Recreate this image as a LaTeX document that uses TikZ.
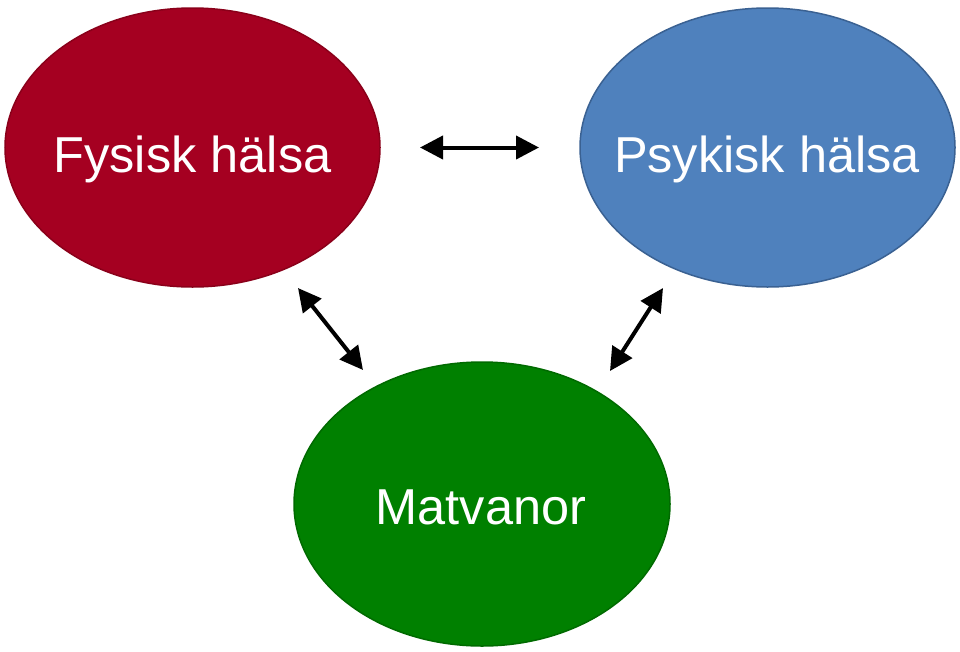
\documentclass[tikz,border=0pt]{standalone}
\usepackage{fontspec}
\setmainfont{Liberation Sans}
\usetikzlibrary{shapes.geometric,arrows.meta}
\definecolor{redfill}{HTML}{A50021}
\definecolor{redline}{HTML}{8A001A}
\definecolor{bluefill}{HTML}{4F81BD}
\definecolor{blueline}{HTML}{3A6192}
\definecolor{greenfill}{HTML}{008000}
\definecolor{greenline}{HTML}{006A00}
\tikzset{
  blob/.style={ellipse, line width=1.5pt, inner sep=0pt},
  lbl/.style={anchor=base, text=white, font=\fontsize{50.5}{60}\selectfont, inner sep=0pt},
  dbl/.style={line width=4pt, {Triangle[length=23pt,width=23pt]}-{Triangle[length=23pt,width=23pt]}}
}
\begin{document}
\begin{tikzpicture}[x=1pt,y=-1pt]
\useasboundingbox (0,0) rectangle (960,651);
\node[blob, fill=redfill, draw=redline, minimum width=375pt, minimum height=279pt] (fys) at (192.5,147.5) {};
\node[blob, fill=bluefill, draw=blueline, minimum width=375pt, minimum height=279pt] (psy) at (767.5,147.5) {};
\node[blob, fill=greenfill, draw=greenline, minimum width=376pt, minimum height=284pt] (mat) at (482,504) {};
\node[lbl] (fyst) at (192.5,172) {Fysisk hälsa};
\node[lbl] (psyt) at (767,172) {Psykisk hälsa};
\node[lbl] (matt) at (481,524) {Matvanor};
\coordinate (h1) at (420,147.5);
\coordinate (h2) at (539,147.5);
\coordinate (l1) at (298,288);
\coordinate (l2) at (363,370);
\coordinate (r1) at (663,288);
\coordinate (r2) at (610,371);
\draw[dbl] (h1) -- (h2);
\draw[dbl] (l1) -- (l2);
\draw[dbl] (r1) -- (r2);
\end{tikzpicture}
\end{document}
